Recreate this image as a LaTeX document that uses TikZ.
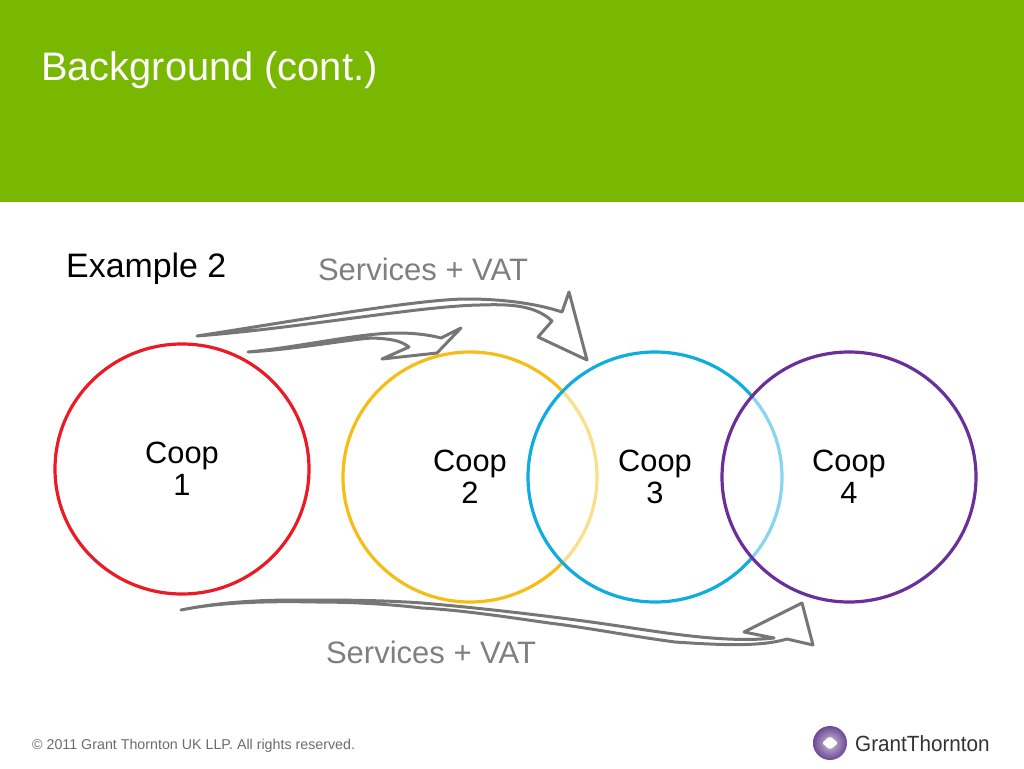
\documentclass[tikz,border=0pt]{standalone}
\usepackage{fontspec}
\setmainfont{Liberation Sans}
\usepackage{xcolor}
\usetikzlibrary{shapes.geometric}
\definecolor{gtgreen}{HTML}{78B800}
\definecolor{gtgray}{HTML}{7F7F7F}
\definecolor{gtline}{HTML}{767676}
\definecolor{gtred}{HTML}{EA1B24}
\definecolor{gtyellow}{HTML}{F6BD16}
\definecolor{gtblue}{HTML}{0FACE0}
\definecolor{gtpurple}{HTML}{6A2F9B}
\definecolor{gtlogo}{HTML}{6B4A94}
\tikzset{
  coopnode/.style={ellipse,draw,line width=3.2pt,minimum width=254pt,minimum height=250pt,inner sep=0pt,
    fill=white,fill opacity=0.5,draw opacity=1,text opacity=1,align=center,text=black,
    font=\fontsize{30.8}{32}\selectfont},
  flowarrow/.style={draw=gtline,line width=3pt,line join=round},
  flowlabel/.style={text=gtgray,font=\fontsize{31}{36}\selectfont}
}
\begin{document}
\begin{tikzpicture}[x=1pt,y=-1pt]
\useasboundingbox (0,0) rectangle (1024,768);
\fill[gtgreen] (0,0) rectangle (1024,202);
\node[anchor=west,text=white,font=\fontsize{39.8}{44}\selectfont,inner sep=0pt] (title) at (41,70) {Background (cont.)};
\node[anchor=west,text=black,font=\fontsize{33.9}{38}\selectfont,inner sep=0pt] (example) at (66,269) {Example 2};
\node[flowlabel,inner sep=0pt] (topvat) at (423,269) {Services + VAT};
\node[flowlabel,inner sep=0pt] (botvat) at (431,652) {Services + VAT};
% the four coops
\node[coopnode,draw=gtred] (coop1) at (182,469) {Coop\\1};
\node[coopnode,draw=gtyellow] (coop2) at (470,477) {Coop\\2};
\node[coopnode,draw=gtblue] (coop3) at (655,477) {Coop\\3};
\node[coopnode,draw=gtpurple] (coop4) at (849,477) {Coop\\4};
% hollow arrows
\draw[flowarrow] (197,336) .. controls (300,320) and (420,299) .. (467,299)
  .. controls (500,299) and (535,303) .. (562,312) -- (569,292) -- (587,360) -- (538,337) -- (552,321)
  .. controls (535,305) and (510,304) .. (480,305) .. controls (420,306) and (300,328) .. (197,336) -- cycle;
\draw[flowarrow] (248,352) .. controls (300,347) and (360,333) .. (397,333)
  .. controls (415,333) and (430,335) .. (441,338) -- (461,328) -- (437,353) -- (382,359) -- (409,347)
  .. controls (400,340) and (390,339) .. (373,338) .. controls (350,339) and (300,349) .. (248,352) -- cycle;
\draw[flowarrow] (181,610) .. controls (220,602) and (260,600) .. (296,600)
  .. controls (340,600) and (380,600) .. (422,603) .. controls (480,608) and (540,615) .. (591,622)
  .. controls (650,630) and (720,644) .. (774,638) -- (744,632) -- (802,603) -- (813,645) -- (787,639)
  .. controls (760,647) and (720,645) .. (675,642) .. controls (630,636) and (590,628) .. (549,623)
  .. controls (500,616) and (460,610) .. (422,608) .. controls (380,603) and (340,602) .. (317,602)
  .. controls (270,601) and (220,602) .. (181,610) -- cycle;
% footer
\node[anchor=west,text=gtgray!85!black,font=\fontsize{14.25}{16}\selectfont,inner sep=0pt] (copyright) at (32,746) {© 2011 Grant Thornton UK LLP. All rights reserved.};
\shade[inner color=gtlogo!35,outer color=gtlogo] (830,743) circle (17);
\fill[white,rounded corners=2pt] (830,736) -- (838,743) -- (830,750) -- (822,743) -- cycle;
\node[anchor=west,text=black!80,xscale=0.94,font=\fontsize{22}{28}\selectfont,inner sep=0pt] (logotext) at (855,744) {GrantThornton};
\end{tikzpicture}
\end{document}
